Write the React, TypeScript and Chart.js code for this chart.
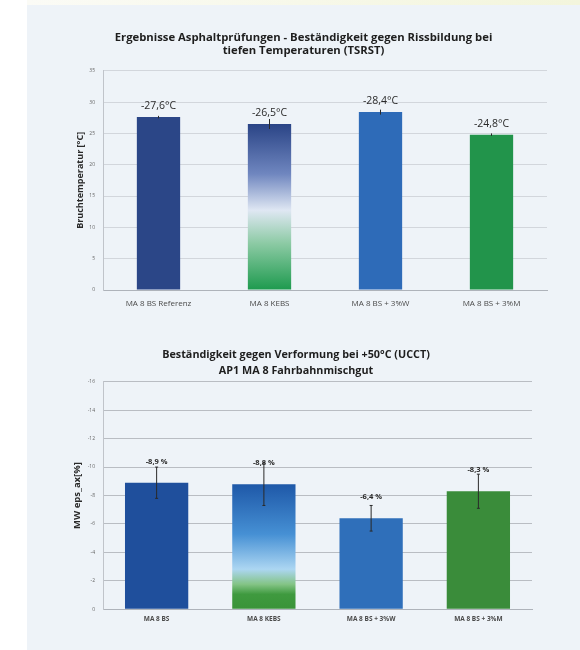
import React, { useEffect, useRef } from "react";
import { Chart, registerables } from "chart.js";

Chart.register(...registerables);

// ---------- data ----------
const tempCategories = ["MA 8 BS Referenz", "MA 8 KEBS", "MA 8 BS + 3%W", "MA 8 BS + 3%M"];
const tempValues = [27.6, 26.5, 28.4, 24.8];
const tempErrors = [0.2, 0.8, 0.4, 0.2];
const tempLabels = ["-27,6°C", "-26,5°C", "-28,4°C", "-24,8°C"];
const tempTitle = [
  "Ergebnisse Asphaltprüfungen - Beständigkeit gegen Rissbildung bei",
  "tiefen Temperaturen (TSRST)",
];
const tempAxisTitle = "Bruchtemperatur [°C]";

const deformCategories = ["MA 8 BS", "MA 8 KEBS", "MA 8 BS + 3%W", "MA 8 BS + 3%M"];
const deformValues = [8.9, 8.8, 6.4, 8.3];
const deformErrors = [1.1, 1.5, 0.9, 1.2];
const deformLabels = ["-8,9 %", "-8,8 %", "-6,4 %", "-8,3 %"];
const deformTitle = [
  "Beständigkeit gegen Verformung bei +50°C (UCCT)",
  "AP1 MA 8 Fahrbahnmischgut",
];
const deformAxisTitle = "MW eps_ax[%]";

// ---------- styles ----------
const FONT = "'Open Sans', 'Noto Sans', sans-serif";

const tempColors = ["#2b4687", null, "#2e6bb8", "#22944b"];
const tempGradient: [number, string][] = [
  [0, "#2a4486"],
  [0.3, "#6f86bf"],
  [0.52, "#dfe7f3"],
  [0.72, "#8ccaa4"],
  [1, "#1d9a4e"],
];
const deformColors = ["#1f4f9c", null, "#2f6fba", "#3a8c3a"];
const deformGradient: [number, string][] = [
  [0, "#1e58a8"],
  [0.4, "#4690d4"],
  [0.68, "#acd6f2"],
  [0.8, "#84c486"],
  [0.88, "#3f9a3f"],
  [1, "#3a9338"],
];

function makeFill(colors: (string | null)[], stops: [number, string][]) {
  return (ctx: any) => {
    const solid = colors[ctx.dataIndex];
    if (solid) return solid;
    const chart = ctx.chart;
    if (!chart.chartArea) return stops[0][1];
    const y = chart.scales.y;
    const v = ctx.raw as number;
    const top = y.getPixelForValue(v);
    const bottom = y.getPixelForValue(0);
    const g = chart.ctx.createLinearGradient(0, top, 0, bottom);
    stops.forEach(([o, c]) => g.addColorStop(o, c));
    return g;
  };
}

const barExtras = {
  id: "barExtras",
  afterDatasetsDraw(chart: any, _args: any, opts: any) {
    const { errors, labels, font, color, offset, cap } = opts;
    const meta = chart.getDatasetMeta(0);
    const y = chart.scales.y;
    const ctx = chart.ctx;
    const data = chart.data.datasets[0].data as number[];
    ctx.save();
    meta.data.forEach((bar: any, i: number) => {
      const v = data[i];
      const e = errors[i];
      const x = bar.x;
      if (e > 0) {
        const yt = y.getPixelForValue(v + e);
        const yb = y.getPixelForValue(v - e);
        ctx.strokeStyle = "#2a2a2a";
        ctx.lineWidth = 1;
        ctx.beginPath();
        ctx.moveTo(x, yt);
        ctx.lineTo(x, yb);
        ctx.moveTo(x - cap, yt);
        ctx.lineTo(x + cap, yt);
        ctx.moveTo(x - cap, yb);
        ctx.lineTo(x + cap, yb);
        ctx.stroke();
      }
      ctx.font = font;
      ctx.fillStyle = color;
      ctx.textAlign = "center";
      ctx.textBaseline = "middle";
      ctx.fillText(labels[i], x, y.getPixelForValue(v) - offset);
    });
    ctx.restore();
  },
};

interface Cfg {
  categories: string[];
  values: number[];
  errors: number[];
  labels: string[];
  title: string[];
  axisTitle: string;
  colors: (string | null)[];
  gradient: [number, string][];
  max: number;
  step: number;
  negTicks: boolean;
  barPct: number;
  titleSize: number;
  titleLH: number;
  titlePad: { top: number; bottom: number };
  yTitleSize: number;
  yTitlePad: number;
  xAxisH: number;
  xPad: number;
  rightPad: number;
  gridColor: string;
  labelFont: string;
  labelOffset: number;
  xFont: any;
  cap: number;
}

function BarChart({ cfg }: { cfg: Cfg }) {
  const ref = useRef<HTMLCanvasElement>(null);
  useEffect(() => {
    const chart = new Chart(ref.current as HTMLCanvasElement, {
      type: "bar",
      data: {
        labels: cfg.categories,
        datasets: [
          {
            data: cfg.values,
            backgroundColor: makeFill(cfg.colors, cfg.gradient),
            borderWidth: 0,
            barPercentage: cfg.barPct,
            categoryPercentage: 1,
          },
        ],
      },
      plugins: [barExtras],
      options: {
        animation: false,
        responsive: true,
        maintainAspectRatio: false,
        layout: { padding: { left: 0, right: cfg.rightPad, top: 0, bottom: 0 } },
        plugins: {
          legend: { display: false },
          tooltip: { enabled: false },
          title: {
            display: true,
            text: cfg.title,
            color: "#1e1e1e",
            font: { family: FONT, size: cfg.titleSize, weight: "bold", lineHeight: cfg.titleLH },
            padding: cfg.titlePad,
          },
          barExtras: {
            errors: cfg.errors,
            labels: cfg.labels,
            font: cfg.labelFont,
            color: "#2a2a2a",
            offset: cfg.labelOffset,
            cap: cfg.cap,
          },
        } as any,
        scales: {
          x: {
            grid: { display: false, drawTicks: false },
            border: { color: "#aeb3ba" },
            ticks: {
              color: "#4a4a4a",
              font: cfg.xFont,
              padding: cfg.xPad,
              maxRotation: 0,
              autoSkip: false,
            },
            afterFit: (s: any) => {
              s.height = cfg.xAxisH;
            },
          },
          y: {
            min: 0,
            max: cfg.max,
            grid: { color: cfg.gridColor, drawTicks: false },
            border: { color: "#c0c4ca" },
            ticks: {
              stepSize: cfg.step,
              color: "#666",
              font: { family: FONT, size: 5 },
              padding: 8,
              callback: (v: any) => (cfg.negTicks && v !== 0 ? "-" + v : String(v)),
            },
            title: {
              display: true,
              text: cfg.axisTitle,
              color: "#2a2a2a",
              font: { family: FONT, size: cfg.yTitleSize, weight: "bold", lineHeight: 1.2 },
              padding: { top: cfg.yTitlePad, bottom: 0 },
            },
            afterFit: (s: any) => {
              s.width = 43;
            },
          },
        },
      },
    });
    return () => chart.destroy();
  }, [cfg]);
  return <canvas ref={ref} />;
}

const tempCfg: Cfg = {
  categories: tempCategories,
  values: tempValues,
  errors: tempErrors,
  labels: tempLabels,
  title: tempTitle,
  axisTitle: tempAxisTitle,
  colors: tempColors,
  gradient: tempGradient,
  max: 35,
  step: 5,
  negTicks: false,
  barPct: 0.39,
  titleSize: 11.3,
  titleLH: 1.1,
  titlePad: { top: 11.8, bottom: 14.1 },
  yTitleSize: 9,
  yTitlePad: 14.6,
  xAxisH: 25,
  xPad: 8.5,
  rightPad: 13,
  gridColor: "#d2d6dc",
  labelFont: `10.5px ${FONT}`,
  labelOffset: 11,
  xFont: { family: FONT, size: 8 },
  cap: 0,
};

const deformCfg: Cfg = {
  categories: deformCategories,
  values: deformValues,
  errors: deformErrors,
  labels: deformLabels,
  title: deformTitle,
  axisTitle: deformAxisTitle,
  colors: deformColors,
  gradient: deformGradient,
  max: 16,
  step: 2,
  negTicks: true,
  barPct: 0.59,
  titleSize: 10.8,
  titleLH: 1.45,
  titlePad: { top: 17.2, bottom: 3.2 },
  yTitleSize: 9.5,
  yTitlePad: 11.3,
  xAxisH: 20.7,
  xPad: 6,
  rightPad: 28,
  gridColor: "#b9bdc3",
  labelFont: `bold 7.5px ${FONT}`,
  labelOffset: 21,
  xFont: { family: FONT, size: 6.5, weight: "bold" },
  cap: 1.5,
};

export default function App() {
  return (
    <div
      style={{
        position: "absolute",
        left: 0,
        top: 0,
        width: 580,
        height: 650,
        background: "#ffffff",
        overflow: "hidden",
      }}
    >
      <div
        style={{
          position: "absolute",
          left: 27,
          top: 0,
          width: 553,
          height: 5,
          background: "linear-gradient(to right, #fbfbf6, #f3f5dc)",
        }}
      />
      <div
        style={{
          position: "absolute",
          left: 27,
          top: 5,
          width: 553,
          height: 645,
          background: "#eef3f8",
        }}
      />
      <div style={{ position: "absolute", left: 60, top: 20, width: 500, height: 295 }}>
        <BarChart cfg={tempCfg} />
      </div>
      <div style={{ position: "absolute", left: 60, top: 330, width: 500, height: 300 }}>
        <BarChart cfg={deformCfg} />
      </div>
    </div>
  );
}
